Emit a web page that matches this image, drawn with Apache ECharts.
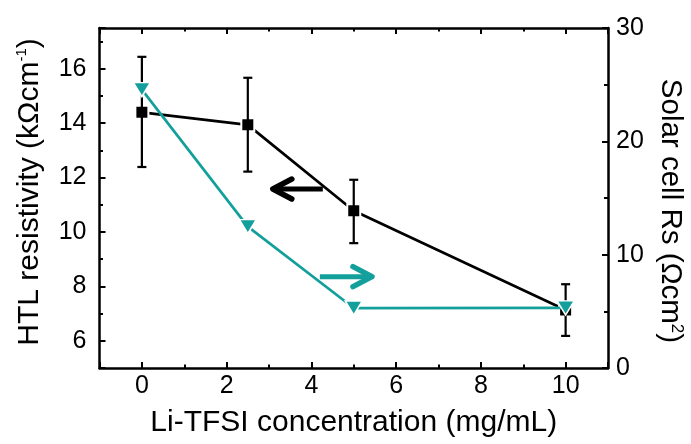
<!DOCTYPE html>
<html>
<head>
<meta charset="utf-8">
<script src="https://cdn.jsdelivr.net/npm/echarts@6/dist/echarts.min.js"></script>
<style>
html,body{margin:0;padding:0;background:#fff;}
#chart{width:691px;height:444px;}
</style>
</head>
<body>
<div id="chart"></div>
<script>
// ---- data ----
const concentrations = [0, 2.5, 5, 10];            // Li-TFSI (mg/mL)
const htlResistivity = [14.40, 13.94, 10.78, 7.13]; // kΩ cm^-1 (left axis)
const htlErrLow      = [12.39, 12.22, 9.59, 6.18];
const htlErrHigh     = [16.44, 15.67, 11.92, 8.08];
const solarRs        = [24.56, 12.47, 5.29, 5.30];  // Ω cm^2 (right axis)
const xTickLabels    = [0, 2, 4, 6, 8, 10];
const yLeftTickLabels  = [6, 8, 10, 12, 14, 16];
const yRightTickLabels = [0, 10, 20, 30];
// arrows: [tail x, tip x, y]
const arrowLeft  = [4.27, 3.09, 11.58];  // on left axis
const arrowRight = [4.20, 5.43, 8.06];   // on right axis

const FONT = '"Liberation Sans", Arial, sans-serif';
const TEAL = '#13a09c';

function labelFrom(list) {
  return function (v) {
    for (const t of list) { if (Math.abs(v - t) < 1e-6) return String(t); }
    return '';
  };
}

const blackData = concentrations.map((x, i) => [x, htlResistivity[i]]);
const tealData  = concentrations.map((x, i) => [x, solarRs[i]]);
const errData   = concentrations.map((x, i) => [x, htlErrLow[i], htlErrHigh[i]]);

const axisLine = { show: true, onZero: false, lineStyle: { color: '#000', width: 2.5 } };
const tickStyle = { color: '#000', width: 2 };

function arrowRender(color) {
  return function (params, api) {
    const tail = api.value(0), tip = api.value(1), y = api.value(2);
    const pT = api.coord([tail, y]);
    const pH = api.coord([tip, y]);
    const dir = pH[0] > pT[0] ? 1 : -1;
    const L = 19, H = 10;
    return {
      type: 'group',
      children: [
        { type: 'line', shape: { x1: pT[0], y1: pT[1], x2: pH[0] - dir * 3, y2: pH[1] },
          style: { stroke: color, lineWidth: 5, lineCap: 'butt' } },
        { type: 'polyline', shape: { points: [[pH[0] - dir * L, pH[1] - H], [pH[0], pH[1]], [pH[0] - dir * L, pH[1] + H]] },
          style: { stroke: color, lineWidth: 5.5, fill: null, lineCap: 'round', lineJoin: 'round' } }
      ]
    };
  };
}

const chart = echarts.init(document.getElementById('chart'), null, { renderer: 'canvas' });
chart.setOption({
  backgroundColor: '#fff',
  animation: false,
  textStyle: { fontFamily: FONT },
  grid: { left: 99.5, right: 83, top: 28, bottom: 76, containLabel: false, outerBoundsMode: 'none' },
  xAxis: [
    { // bottom major
      type: 'value', position: 'bottom', min: -1, max: 11, minInterval: 2, maxInterval: 2,
      axisLine: axisLine,
      axisTick: { show: true, inside: true, length: 6, lineStyle: tickStyle },
      axisLabel: { show: true, margin: 6, color: '#000', fontSize: 25, fontFamily: FONT, formatter: labelFrom(xTickLabels) },
      splitLine: { show: false },
      name: 'Li-TFSI concentration (mg/mL)', nameLocation: 'middle', nameGap: 40,
      nameTextStyle: { color: '#000', fontSize: 30, fontFamily: FONT }
    },
    { // bottom minor
      type: 'value', position: 'bottom', min: -1, max: 11, interval: 1,
      axisLine: { show: false, onZero: false },
      axisTick: { show: true, inside: true, length: 3.5, lineStyle: tickStyle },
      axisLabel: { show: false }, splitLine: { show: false }
    },
    { // top major
      type: 'value', position: 'top', min: -1, max: 11, minInterval: 2, maxInterval: 2,
      axisLine: axisLine,
      axisTick: { show: true, inside: true, length: 6, lineStyle: tickStyle },
      axisLabel: { show: false }, splitLine: { show: false }
    },
    { // top minor
      type: 'value', position: 'top', min: -1, max: 11, interval: 1,
      axisLine: { show: false, onZero: false },
      axisTick: { show: true, inside: true, length: 3.5, lineStyle: tickStyle },
      axisLabel: { show: false }, splitLine: { show: false }
    }
  ],
  yAxis: [
    { // left major
      type: 'value', position: 'left', min: 5, max: 17.5, minInterval: 2, maxInterval: 2,
      axisLine: axisLine,
      axisTick: { show: true, inside: true, length: 6, lineStyle: tickStyle },
      axisLabel: { show: true, margin: 13, color: '#000', fontSize: 25, fontFamily: FONT, formatter: labelFrom(yLeftTickLabels) },
      splitLine: { show: false },
      name: 'HTL resistivity (kΩcm{sup|-1})', nameLocation: 'middle', nameRotate: 90, nameGap: 55,
      nameTextStyle: { color: '#000', fontSize: 30, fontFamily: FONT, padding: [0, 0, 0, 12],
        rich: { sup: { fontSize: 15, verticalAlign: 'top', color: '#000', fontFamily: FONT } } }
    },
    { // left minor
      type: 'value', position: 'left', min: 5, max: 17.5, interval: 1,
      axisLine: { show: false, onZero: false },
      axisTick: { show: true, inside: true, length: 3.5, lineStyle: tickStyle },
      axisLabel: { show: false }, splitLine: { show: false }
    },
    { // right
      type: 'value', position: 'right', min: 0, max: 30, interval: 10,
      axisLine: axisLine,
      axisTick: { show: true, inside: true, length: 6, lineStyle: tickStyle },
      minorTick: { show: true, splitNumber: 2, length: 4, lineStyle: tickStyle },
      axisLabel: { show: true, margin: 8, color: '#000', fontSize: 25, fontFamily: FONT, formatter: labelFrom(yRightTickLabels) },
      splitLine: { show: false }, minorSplitLine: { show: false },
      name: 'Solar cell Rs (Ωcm{sup|2})', nameLocation: 'middle', nameRotate: -90, nameGap: 41,
      nameTextStyle: { color: '#000', fontSize: 29.5, fontFamily: FONT, padding: [0, 0, 0, 26],
        rich: { sup: { fontSize: 17, verticalAlign: 'top', color: '#000', fontFamily: FONT } } }
    }
  ],
  series: [
    {
      type: 'line', name: 'HTL', xAxisIndex: 0, yAxisIndex: 0, data: blackData, z: 2,
      lineStyle: { color: '#000', width: 2.7 },
      symbol: 'rect', symbolSize: 13,
      itemStyle: { color: '#000', borderColor: '#fff', borderWidth: 2 }
    },
    {
      type: 'custom', name: 'err', xAxisIndex: 0, yAxisIndex: 0, data: errData, z: 3,
      encode: { x: 0, y: [1, 2] },
      renderItem: function (params, api) {
        const x = api.value(0), lo = api.value(1), hi = api.value(2);
        const a = api.coord([x, lo]), b = api.coord([x, hi]);
        const w = 4.5;
        const st = { stroke: '#000', lineWidth: 2.2 };
        return { type: 'group', children: [
          { type: 'line', shape: { x1: a[0], y1: a[1], x2: b[0], y2: b[1] }, style: st },
          { type: 'line', shape: { x1: a[0] - w, y1: a[1], x2: a[0] + w, y2: a[1] }, style: st },
          { type: 'line', shape: { x1: b[0] - w, y1: b[1], x2: b[0] + w, y2: b[1] }, style: st }
        ] };
      }
    },
    {
      type: 'line', name: 'Rs', xAxisIndex: 0, yAxisIndex: 2, data: tealData, z: 4,
      lineStyle: { color: TEAL, width: 2.7 },
      symbol: 'triangle', symbolRotate: 180, symbolSize: [17, 14],
      itemStyle: { color: TEAL, borderColor: '#fff', borderWidth: 1.5 }
    },
    {
      type: 'custom', name: 'arrowL', xAxisIndex: 0, yAxisIndex: 0, data: [arrowLeft], z: 5,
      encode: { x: [0, 1], y: 2 }, renderItem: arrowRender('#000')
    },
    {
      type: 'custom', name: 'arrowR', xAxisIndex: 0, yAxisIndex: 2, data: [arrowRight], z: 5,
      encode: { x: [0, 1], y: 2 }, renderItem: arrowRender(TEAL)
    }
  ]
});
</script>
</body>
</html>
